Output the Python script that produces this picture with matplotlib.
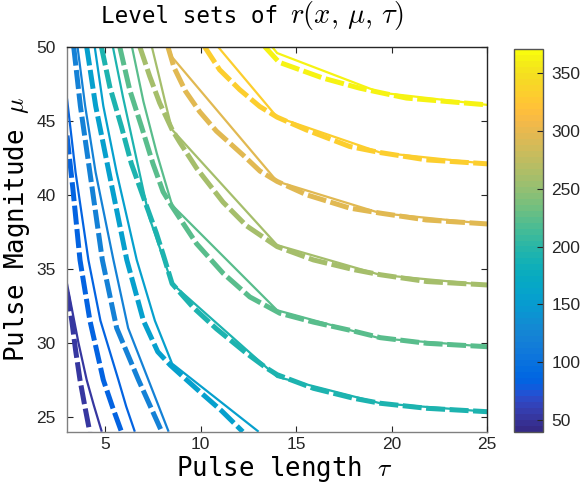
import numpy as np
import matplotlib
matplotlib.use("Agg")
import matplotlib.pyplot as plt
from matplotlib.colors import ListedColormap, Normalize
from matplotlib.cm import ScalarMappable

# ---------------- data ----------------
levels = [50, 85, 120, 155, 190, 225, 260, 295, 330, 365]
clim = (39.6, 371.0)
xticks = [5, 10, 15, 20, 25]
yticks = [25, 30, 35, 40, 45, 50]
cticks = [50, 100, 150, 200, 250, 300, 350]

# solid (coarse grid) level sets
tau_s1 = [3.0, 3.3, 3.6, 4.03, 4.4, 4.82]
mu_s1 = [34.0, 32.0, 30.0, 27.5, 25.8, 24.0]
tau_s2 = [3.0, 3.45, 4.12, 4.75, 5.69, 6.1, 6.55]
mu_s2 = [46.5, 41.5, 35.6, 31.5, 27.5, 25.7, 24.0]
tau_s3 = [3.55, 3.95, 4.5, 5.43, 6.2, 7.26, 8.32]
mu_s3 = [50.0, 46.0, 41.5, 35.6, 31.0, 27.5, 24.0]
tau_s4 = [4.45, 4.9, 5.6, 6.65, 7.6, 8.5, 13.03]
mu_s4 = [50.0, 46.0, 41.5, 35.6, 31.5, 28.6, 24.0]
tau_s5 = [5.4, 5.93, 6.54, 7.3, 8.5, 14.0, 19.4, 25.0]
mu_s5 = [50.0, 46.6, 43.0, 38.5, 34.0, 27.7, 25.92, 25.35]
tau_s6 = [6.4, 7.0, 7.7, 8.5, 14.0, 19.4, 25.0]
mu_s6 = [50.0, 46.3, 42.8, 39.3, 32.2, 30.3, 29.74]
tau_s7 = [7.44, 7.8, 8.15, 8.5, 14.0, 19.4, 25.0]
mu_s7 = [50.0, 48.1, 46.2, 44.4, 36.6, 34.59, 33.91]
tau_s8 = [8.3, 8.5, 14.0, 19.4, 25.0]
mu_s8 = [50.0, 49.3, 40.9, 38.76, 38.03]
tau_s9 = [10.9, 14.0, 19.4, 25.0]
mu_s9 = [50.0, 45.24, 42.85, 42.09]
tau_s10 = [13.73, 14.0, 19.4, 25.0]
mu_s10 = [50.0, 49.57, 46.9, 46.07]

# dashed (smooth) level sets
tau_d1 = [3.0, 3.25, 3.45, 3.68, 3.95, 4.19]
mu_d1 = [33.4, 31.5, 29.5, 27.5, 25.6, 24.0]
tau_d2 = [3.0, 3.3, 3.68, 4.2, 4.9, 5.4, 5.85]
mu_d2 = [44.0, 40.5, 35.6, 31.5, 27.5, 25.6, 24.0]
tau_d3 = [3.35, 3.7, 4.2, 4.85, 5.6, 6.74, 7.96]
mu_d3 = [50.0, 46.0, 41.5, 35.6, 31.0, 27.5, 24.0]
tau_d4 = [4.03, 4.5, 5.2, 6.13, 7.0, 7.75, 8.4, 9.0, 9.95, 11.1, 12.2]
mu_d4 = [50.0, 46.0, 41.5, 35.6, 31.5, 29.4, 28.5, 27.8, 26.7, 25.4, 24.0]
tau_d5 = [4.8, 5.24, 5.85, 6.37, 6.98, 7.68, 8.05, 8.5, 9.6, 10.82, 12.39,
          13.44, 14.0, 15.9, 17.99, 19.4, 21.83, 25.0]
mu_d5 = [50.0, 47.3, 44.6, 42.1, 39.9, 37.4, 35.9, 34.0, 32.4, 30.95, 29.3,
         28.3, 27.85, 26.93, 26.26, 25.92, 25.58, 25.35]
tau_d6 = [5.76, 6.28, 6.9, 7.5, 8.03, 8.5, 9.78, 11.17, 12.57, 14.14, 15.9,
          17.99, 19.4, 21.83, 25.0]
mu_d6 = [50.0, 47.1, 44.6, 42.1, 40.2, 39.2, 36.7, 34.7, 33.1, 32.0, 31.4,
         30.8, 30.35, 29.97, 29.74]
tau_d7 = [6.81, 7.33, 7.85, 8.5, 8.9, 9.78, 11.17, 12.4, 14.0, 15.9, 17.99,
          19.4, 21.83, 25.0]
mu_d7 = [50.0, 48.0, 46.2, 44.4, 43.55, 41.8, 39.5, 37.9, 36.5, 35.6, 34.95,
         34.6, 34.14, 33.91]
tau_d8 = [8.28, 8.6, 9.2, 9.95, 10.82, 12.2, 13.1, 14.0, 15.54, 17.8, 19.4,
          21.8, 25.0]
mu_d8 = [50.0, 48.6, 47.0, 45.6, 44.3, 42.7, 41.6, 40.9, 40.0, 39.1, 38.76,
         38.3, 38.03]
tau_d9 = [10.2, 10.99, 12.04, 13.09, 14.0, 15.53, 17.8, 19.4, 21.8, 25.0]
mu_d9 = [50.0, 48.44, 47.1, 45.96, 45.24, 44.38, 43.26, 42.85, 42.36, 42.09]
tau_d10 = [13.35, 14.1, 16.4, 18.32, 19.4, 20.77, 25.0]
mu_d10 = [50.0, 48.95, 47.88, 47.2, 46.9, 46.53, 46.07]

solid = [(tau_s1, mu_s1), (tau_s2, mu_s2), (tau_s3, mu_s3), (tau_s4, mu_s4),
         (tau_s5, mu_s5), (tau_s6, mu_s6), (tau_s7, mu_s7), (tau_s8, mu_s8),
         (tau_s9, mu_s9), (tau_s10, mu_s10)]
dashed = [(tau_d1, mu_d1), (tau_d2, mu_d2), (tau_d3, mu_d3), (tau_d4, mu_d4),
          (tau_d5, mu_d5), (tau_d6, mu_d6), (tau_d7, mu_d7), (tau_d8, mu_d8),
          (tau_d9, mu_d9), (tau_d10, mu_d10)]

# ---------------- parula colormap ----------------
parula_rgb = [
    [0.2081, 0.1663, 0.5292], [0.2116, 0.1898, 0.5777], [0.2123, 0.2138, 0.6270],
    [0.2081, 0.2386, 0.6771], [0.1959, 0.2645, 0.7279], [0.1707, 0.2919, 0.7792],
    [0.1253, 0.3242, 0.8303], [0.0591, 0.3598, 0.8683], [0.0117, 0.3875, 0.8820],
    [0.0060, 0.4086, 0.8828], [0.0165, 0.4266, 0.8786], [0.0329, 0.4430, 0.8720],
    [0.0498, 0.4586, 0.8641], [0.0629, 0.4737, 0.8554], [0.0723, 0.4887, 0.8467],
    [0.0779, 0.5040, 0.8384], [0.0793, 0.5200, 0.8312], [0.0749, 0.5375, 0.8263],
    [0.0641, 0.5570, 0.8240], [0.0488, 0.5772, 0.8228], [0.0343, 0.5966, 0.8199],
    [0.0265, 0.6137, 0.8135], [0.0239, 0.6287, 0.8038], [0.0231, 0.6418, 0.7913],
    [0.0228, 0.6535, 0.7768], [0.0267, 0.6642, 0.7607], [0.0384, 0.6743, 0.7436],
    [0.0590, 0.6838, 0.7254], [0.0843, 0.6928, 0.7062], [0.1133, 0.7015, 0.6859],
    [0.1453, 0.7098, 0.6646], [0.1801, 0.7177, 0.6424], [0.2178, 0.7250, 0.6193],
    [0.2586, 0.7317, 0.5954], [0.3022, 0.7376, 0.5712], [0.3482, 0.7424, 0.5473],
    [0.3953, 0.7459, 0.5244], [0.4420, 0.7481, 0.5033], [0.4871, 0.7491, 0.4840],
    [0.5300, 0.7491, 0.4661], [0.5709, 0.7485, 0.4494], [0.6099, 0.7473, 0.4337],
    [0.6473, 0.7456, 0.4188], [0.6834, 0.7435, 0.4044], [0.7184, 0.7411, 0.3905],
    [0.7525, 0.7384, 0.3768], [0.7858, 0.7356, 0.3633], [0.8185, 0.7327, 0.3498],
    [0.8507, 0.7299, 0.3360], [0.8824, 0.7274, 0.3217], [0.9139, 0.7258, 0.3063],
    [0.9450, 0.7261, 0.2886], [0.9739, 0.7314, 0.2666], [0.9938, 0.7455, 0.2403],
    [0.9990, 0.7653, 0.2164], [0.9955, 0.7861, 0.1967], [0.9880, 0.8066, 0.1794],
    [0.9789, 0.8271, 0.1633], [0.9697, 0.8481, 0.1475], [0.9626, 0.8705, 0.1309],
    [0.9589, 0.8949, 0.1132], [0.9598, 0.9218, 0.0948], [0.9661, 0.9514, 0.0755],
    [0.9763, 0.9831, 0.0538]]
parula = ListedColormap(parula_rgb, name="parula")
norm = Normalize(vmin=clim[0], vmax=clim[1])

# ---------------- figure ----------------
plt.rcParams['mathtext.fontset'] = 'cm'
W, H = 581, 487
fig = plt.figure(figsize=(W / 100, H / 100), dpi=100)

ax = fig.add_axes([67 / W, 1 - 431.7 / H, (487.3 - 67) / W, (431.7 - 46.7) / H])

for lev, (t, m) in zip(levels, solid):
    ax.plot(t, m, '-', color=parula(norm(lev)), lw=1.6, solid_capstyle='butt',
            solid_joinstyle='miter')
for lev, (t, m) in zip(levels, dashed):
    ax.plot(t, m, '--', color=parula(norm(lev)), lw=3.6, dashes=(3.8, 0.9),
            dash_capstyle='butt')

ax.set_xlim(3, 25)
ax.set_ylim(24, 50)
ax.set_xticks(xticks)
ax.set_yticks(yticks)
tick_font = {'family': 'Liberation Sans', 'size': 12.5}
ax.set_xticklabels([str(v) for v in xticks], fontdict=tick_font)
ax.set_yticklabels([str(v) for v in yticks], fontdict=tick_font)
ax.tick_params(axis='x', direction='in', length=4.5, width=0.8, top=True,
               colors='#262626', pad=4)
ax.tick_params(axis='y', direction='in', length=4.5, width=0.8, right=True,
               colors='#262626', pad=8)
for side in ['left', 'bottom']:
    ax.spines[side].set_color('#808080')
for side in ['top', 'right']:
    ax.spines[side].set_color('#262626')
for sp in ax.spines.values():
    sp.set_linewidth(1.0)

mono = 'DejaVu Sans Mono'
fig.text(101 / W, 1 - 23 / H, 'Level sets of', ha='left',
         va='baseline', fontsize=16.3, family=mono)
fig.text(290 / W, 1 - 23 / H, r'$r(x,\,\mu,\,\tau)$', ha='left',
         va='baseline', fontsize=20.5)
fig.text(284 / W, 1 - 476 / H, r'Pulse length $\tau$', ha='center',
         va='baseline', fontsize=18.5, family=mono)
fig.text(17 / W, 1 - 230 / H, r'Pulse Magnitude $\mu$', ha='center',
         va='center', rotation=90, fontsize=18.5, family=mono)

# colorbar
cax = fig.add_axes([514 / W, 1 - 432 / H, 29 / W, (432 - 49) / H])
sm = ScalarMappable(norm=norm, cmap=parula)
cb = fig.colorbar(sm, cax=cax)
cb.set_ticks(cticks)
cb.ax.set_yticklabels([str(v) for v in cticks], fontdict=tick_font)
cb.ax.tick_params(direction='in', length=4.5, width=0.8, colors='#262626',
                  left=False, right=True, pad=6)
cb.outline.set_edgecolor('#555555')
cb.outline.set_linewidth(1.0)

fig.savefig('out.png', dpi=100)
